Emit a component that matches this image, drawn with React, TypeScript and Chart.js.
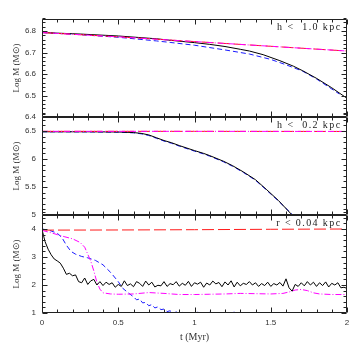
import { useEffect, useRef } from 'react';
import { Chart, registerables } from 'chart.js';
Chart.register(...registerables);

// ---- Panel 1 (h < 1.0 kpc) ----
const topBlackT = [0, 0.25, 0.5, 0.75, 0.84, 1.0, 1.1, 1.2, 1.3, 1.36, 1.45, 1.56, 1.65, 1.71, 1.8, 1.9, 2.0];
const topBlack = [6.793, 6.786, 6.777, 6.764, 6.757, 6.746, 6.738, 6.728, 6.715, 6.707, 6.69, 6.662, 6.636, 6.615, 6.58, 6.536, 6.487];
const topBlueT = [0, 0.25, 0.5, 0.75, 0.84, 1.0, 1.2, 1.36, 1.5, 1.6, 1.71, 1.8, 1.95];
const topBlue = [6.793, 6.783, 6.771, 6.754, 6.747, 6.734, 6.712, 6.693, 6.668, 6.643, 6.613, 6.577, 6.507];
const topMagT = [0, 0.5, 1.0, 1.5, 2.0];
const topMag = [6.793, 6.773, 6.751, 6.729, 6.707];
const topRedT = [0, 0.5, 1.0, 1.5, 2.0];
const topRed = [6.793, 6.773, 6.751, 6.729, 6.707];

// ---- Panel 2 (h < 0.2 kpc) ----
const midBlackT = [0, 0.3, 0.5, 0.6, 0.65, 0.7, 0.75, 0.8, 0.85, 0.9, 1.0, 1.06, 1.1, 1.19, 1.25, 1.32, 1.4, 1.47, 1.55, 1.64];
const midBlack = [6.486, 6.486, 6.482, 6.472, 6.458, 6.43, 6.38, 6.33, 6.29, 6.24, 6.15, 6.1, 6.06, 5.96, 5.88, 5.77, 5.63, 5.46, 5.26, 5.0];
const midBlueT = [0, 0.3, 0.5, 0.6, 0.65, 0.7, 0.75, 0.8, 0.85, 0.9, 1.0, 1.06, 1.1, 1.19, 1.25, 1.32, 1.4, 1.47, 1.55, 1.645];
const midBlue = [6.486, 6.484, 6.479, 6.467, 6.45, 6.42, 6.37, 6.32, 6.28, 6.23, 6.14, 6.09, 6.05, 5.95, 5.87, 5.76, 5.62, 5.45, 5.25, 5.0];
const midMagT = [0, 1.0, 2.0];
const midMag = [6.494, 6.494, 6.492];
const midRedT = [0, 1.0, 2.0];
const midRed = [6.494, 6.494, 6.492];

// ---- Panel 3 (r < 0.04 kpc) ----
const botBlackT = [
  0, 0.02, 0.04, 0.06, 0.08, 0.1, 0.12, 0.14, 0.16, 0.18, 0.2, 0.22, 0.24, 0.26, 0.28, 0.3, 0.32, 0.34, 0.36, 0.38,
  0.4, 0.42, 0.44, 0.46, 0.48, 0.5, 0.52, 0.54, 0.56, 0.58, 0.6, 0.62, 0.64, 0.66, 0.68, 0.7, 0.72, 0.74, 0.76, 0.78,
  0.8, 0.82, 0.84, 0.86, 0.88, 0.9, 0.92, 0.94, 0.96, 0.98, 1.0, 1.02, 1.04, 1.06, 1.08, 1.1, 1.12, 1.14, 1.16, 1.18,
  1.2, 1.22, 1.24, 1.26, 1.28, 1.3, 1.32, 1.34, 1.36, 1.38, 1.4, 1.42, 1.44, 1.46, 1.48, 1.5, 1.52, 1.54, 1.56, 1.58,
  1.6, 1.62, 1.64, 1.66, 1.68, 1.7, 1.72, 1.74, 1.76, 1.78, 1.8, 1.82, 1.84, 1.86, 1.88, 1.9, 1.92, 1.94, 1.96, 1.98, 2.0,
];
const botBlack = [
  3.98, 3.55, 3.28, 3.08, 2.93, 2.86, 2.78, 2.6, 2.38, 2.42, 2.33, 2.36, 2.12, 2.08, 2.25, 2.02, 2.15, 2.2, 2.0, 2.12,
  1.98, 2.1, 2.02, 2.08, 1.92, 2.02, 1.95, 2.15, 1.98, 2.04, 1.94, 2.12, 2.06, 1.95, 2.14, 2.0, 2.1, 1.93, 1.99, 1.97,
  2.12, 1.95, 2.05, 2.01, 2.12, 1.96, 2.06, 1.99, 2.13, 1.95, 2.08, 2.03, 2.1, 1.92, 2.07, 2.0, 2.14, 2.04, 2.09, 1.94,
  2.11, 2.0, 2.15, 1.93, 2.1, 1.97, 2.06, 2.02, 2.12, 2.0, 2.08, 1.95, 2.05, 1.98, 2.1, 1.95, 2.05, 2.0, 2.09, 1.96,
  2.22, 1.9, 1.78, 2.02, 1.95, 2.08, 1.97, 2.12, 2.0, 2.1, 1.95, 2.08, 1.98, 2.11, 1.93, 2.06, 2.0, 2.08, 1.9, 1.92, 1.88,
];
const botBlueT = [
  0, 0.05, 0.1, 0.13, 0.16, 0.19, 0.22, 0.26, 0.3, 0.35, 0.4, 0.45, 0.5, 0.53, 0.57, 0.6, 0.62, 0.64, 0.66, 0.68,
  0.7, 0.72, 0.74, 0.76, 0.78, 0.8, 0.82, 0.84, 0.86, 0.88, 0.9, 0.92, 0.94, 0.96, 0.98, 1.0, 1.02, 1.04, 1.08, 1.1,
  1.14, 1.2, 1.26, 1.3, 1.4, 1.5, 1.6, 1.62,
];
const botBlue = [
  4.0, 3.95, 3.85, 3.7, 3.42, 3.2, 3.1, 3.02, 2.97, 2.88, 2.72, 2.45, 2.12, 1.88, 1.7, 1.58, 1.47, 1.5, 1.36, 1.38,
  1.26, 1.3, 1.18, 1.22, 1.12, 1.14, 1.05, 1.08, 0.98, 1.04, 0.95, 1.02, 0.9, 1.03, 0.9, 0.93, 1.04, 0.9, 0.92, 1.03,
  0.9, 0.92, 1.03, 0.9, 0.92, 0.9, 1.03, 0.9,
];
const botMagT = [0, 0.05, 0.1, 0.15, 0.2, 0.25, 0.28, 0.3, 0.32, 0.34, 0.36, 0.38, 0.4, 0.45, 0.5, 0.6, 0.7, 0.8, 0.9, 1.0,
  1.1, 1.2, 1.3, 1.4, 1.5, 1.58, 1.62, 1.66, 1.7, 1.74, 1.78, 1.82, 1.9, 2.0];
const botMag = [3.95, 3.88, 3.8, 3.72, 3.65, 3.52, 3.35, 3.1, 2.85, 2.5, 2.1, 1.85, 1.72, 1.68, 1.67, 1.68, 1.73, 1.7, 1.66, 1.66,
  1.67, 1.68, 1.7, 1.69, 1.68, 1.7, 1.75, 1.82, 1.84, 1.8, 1.72, 1.68, 1.66, 1.66];
const botRedT = [0, 0.5, 1.0, 1.5, 2.0];
const botRed = [3.96, 3.965, 3.975, 3.99, 4.0];

// ---- Axes ----
const xTicks = [0, 0.5, 1, 1.5, 2];
const xMinorStep = 0.1;
const topTicks = [6.4, 6.5, 6.6, 6.7, 6.8];
const midTicks = [5, 5.5, 6, 6.5];
const botTicks = [1, 2, 3, 4];
const panelLabels = ['h <  1.0 kpc', 'h <  0.2 kpc', 'r < 0.04 kpc'];
const yTitle = 'Log M (M\u2299)';

const panels = [
  { id: 'yTop', min: 6.4, max: 6.856, ticks: topTicks, minor: 0.02, label: panelLabels[0] },
  { id: 'yMid', min: 5, max: 6.75, ticks: midTicks, minor: 0.1, label: panelLabels[1] },
  { id: 'yBot', min: 1, max: 4.5, ticks: botTicks, minor: 0.2, label: panelLabels[2] },
];

const pts = (t: number[], v: number[]) => t.map((x, i) => ({ x, y: v[i] }));

const RED = '#ff1a1a';
const MAG = '#ff00ff';
const BLUE = '#1a1aff';
const BLACK = '#000000';

function ds(data: any, yAxisID: string, color: string, dash: number[]) {
  return {
    data, yAxisID, borderColor: color, borderWidth: 1, borderDash: dash,
    pointRadius: 0, fill: false, tension: 0,
  };
}

const frames = {
  id: 'frames',
  beforeDatasetDraw(chart: any, args: any) {
    const s = chart.scales[args.meta.yAxisID];
    const ca = chart.chartArea;
    const ctx = chart.ctx;
    ctx.save();
    ctx.beginPath();
    ctx.rect(ca.left, s.top, ca.right - ca.left, s.bottom - s.top);
    ctx.clip();
  },
  afterDatasetDraw(chart: any) {
    chart.ctx.restore();
  },
  afterDraw(chart: any) {
    const ctx = chart.ctx;
    const ca = chart.chartArea;
    const xs = chart.scales.x;
    const L = Math.round(ca.left) + 0.5;
    const R = Math.round(ca.right) - 0.5;
    ctx.save();
    ctx.strokeStyle = '#222';
    ctx.lineWidth = 1;
    panels.forEach((p) => {
      const s = chart.scales[p.id];
      const T = Math.round(s.top) + 0.5;
      const B = Math.round(s.bottom) - 0.5;
      ctx.beginPath();
      ctx.rect(L, T, R - L, B - T);
      ctx.stroke();
      ctx.beginPath();
      const nx = Math.round((xs.max - xs.min) / xMinorStep);
      for (let i = 0; i <= nx; i++) {
        const v = xs.min + i * xMinorStep;
        const major = xTicks.some((m) => Math.abs(m - v) < 1e-6);
        const len = major ? 5 : 3;
        const px = Math.round(xs.getPixelForValue(v)) + 0.5;
        ctx.moveTo(px, T); ctx.lineTo(px, T + len);
        ctx.moveTo(px, B); ctx.lineTo(px, B - len);
      }
      const ny = Math.round((p.max - p.min) / p.minor + 1e-6);
      for (let i = 0; i <= ny; i++) {
        const v = p.min + i * p.minor;
        const major = p.ticks.some((m) => Math.abs(m - v) < 1e-6);
        const len = major ? 5 : 3;
        const py = Math.round(s.getPixelForValue(v)) + 0.5;
        ctx.moveTo(L, py); ctx.lineTo(L + len, py);
        ctx.moveTo(R, py); ctx.lineTo(R - len, py);
      }
      ctx.stroke();
      ctx.fillStyle = '#222';
      ctx.font = '10px "Liberation Serif"';
      (ctx as any).letterSpacing = '1.4px';
      ctx.textAlign = 'right';
      ctx.textBaseline = 'middle';
      ctx.fillText(p.label, R - 5, T + 8);
      (ctx as any).letterSpacing = '0px';
    });
    ctx.restore();
  },
};

export default function App() {
  const ref = useRef<HTMLCanvasElement | null>(null);
  useEffect(() => {
    document.body.style.margin = '0';
    const tickFont = { family: '"Liberation Sans", sans-serif', size: 8 };
    const titleFont = { family: '"Liberation Serif", serif', size: 9 };
    const yScale = (p: any) => ({
      type: 'linear',
      position: 'left',
      stack: 'panels',
      stackWeight: 1,
      min: p.min,
      max: p.max,
      grid: { display: false, drawTicks: false },
      border: { display: false },
      afterBuildTicks: (s: any) => { s.ticks = p.ticks.map((v: number) => ({ value: v })); },
      afterFit: (s: any) => { s.width = 42; },
      ticks: { font: tickFont, color: '#333', padding: 6, autoSkip: false, callback: (v: any) => String(v) },
      title: { display: true, text: yTitle, font: titleFont, color: '#333', padding: { top: 11, bottom: 0 } },
    });
    const chart = new Chart(ref.current as HTMLCanvasElement, {
      type: 'line',
      data: {
        // first dataset is drawn on top
        datasets: [
          ds(pts(topMagT, topMag), 'yTop', MAG, [6, 2, 1, 2]),
          ds(pts(topRedT, topRed), 'yTop', RED, [12, 4]),
          ds(pts(topBlackT, topBlack), 'yTop', BLACK, []),
          ds(pts(topBlueT, topBlue), 'yTop', BLUE, [5, 3]),
          ds(pts(midMagT, midMag), 'yMid', MAG, [6, 2, 1, 2]),
          ds(pts(midRedT, midRed), 'yMid', RED, [12, 4]),
          ds(pts(midBlackT, midBlack), 'yMid', BLACK, []),
          ds(pts(midBlueT, midBlue), 'yMid', BLUE, [5, 3]),
          ds(pts(botBlackT, botBlack), 'yBot', BLACK, []),
          ds(pts(botMagT, botMag), 'yBot', MAG, [6, 2, 1, 2]),
          ds(pts(botRedT, botRed), 'yBot', RED, [12, 4]),
          ds(pts(botBlueT, botBlue), 'yBot', BLUE, [5, 3]),
        ] as any,
      },
      options: {
        responsive: false,
        animation: false,
        events: [],
        layout: { padding: { top: 19, right: 10, left: 0, bottom: 0 } },
        plugins: { legend: { display: false }, tooltip: { enabled: false } },
        scales: {
          x: {
            type: 'linear',
            position: 'bottom',
            min: 0,
            max: 2,
            grid: { display: false, drawTicks: false },
            border: { display: false },
            afterBuildTicks: (s: any) => { s.ticks = xTicks.map((v) => ({ value: v })); },
            afterFit: (s: any) => { s.height = 44; },
            ticks: { font: tickFont, color: '#333', padding: 5, autoSkip: false, maxRotation: 0, callback: (v: any) => String(v) },
            title: { display: true, text: 't (Myr)', font: { family: '"Liberation Serif", serif', size: 10 }, color: '#333', padding: { top: 0, bottom: 14 } },
          },
          yBot: yScale(panels[2]),
          yMid: yScale(panels[1]),
          yTop: yScale(panels[0]),
        } as any,
      },
      plugins: [frames],
    });
    return () => chart.destroy();
  }, []);
  return (
    <div style={{ position: 'absolute', left: 0, top: 0, width: 357, height: 357 }}>
      <canvas ref={ref} width={357} height={357} style={{ display: 'block', width: 357, height: 357 }} />
    </div>
  );
}
